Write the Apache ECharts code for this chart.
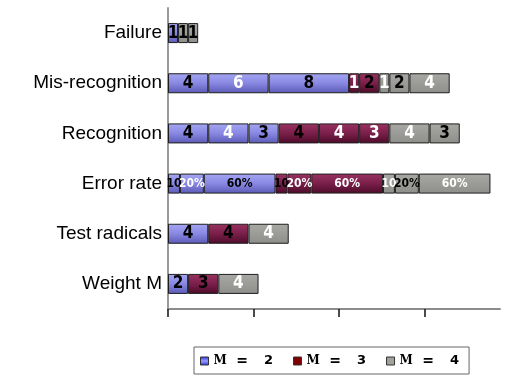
<!DOCTYPE html>
<html>
<head>
<meta charset="utf-8">
<script src="https://cdn.jsdelivr.net/npm/echarts@6/dist/echarts.min.js"></script>
<style>
  html, body { margin: 0; padding: 0; background: #ffffff; }
  #chart { width: 509px; height: 377px; }
</style>
</head>
<body>
<div id="chart"></div>
<script>
// Rows, top to bottom
const categories = ['Failure', 'Mis-recognition', 'Recognition', 'Error rate', 'Test radicals', 'Weight M'];

// Count segments per model order (null = no segment in that row)
const m2First  = [1, 4, 4, null, 4, 2];
const m2Second = [null, 6, 4, null, null, null];
const m2Third  = [null, 8, 3, null, null, null];
const m3First  = [null, 1, 4, null, 4, 3];
const m3Second = [null, 2, 4, null, null, null];
const m3Third  = [null, null, 3, null, null, null];
const m4First  = [1, 1, 4, null, 4, 4];
const m4Second = [1, 2, 3, null, null, null];
const m4Third  = [null, 4, null, null, null, null];

// Error rate row: percentage parts for each model order
const m2Rates = [10, 20, 60];
const m3Rates = [10, 20, 60];
const m4Rates = [10, 20, 60];
const rateLabels = ['10', '20%', '60%'];

// Value axis tick positions
const xTicks = [0, 8.5, 17, 25.5];

// Label ink per segment: k = dark text, w = light text
const m2FirstInk  = ['k', 'k', 'k', '', 'k', 'k'];
const m2SecondInk = ['', 'w', 'w', '', '', ''];
const m2ThirdInk  = ['', 'k', 'k', '', '', ''];
const m3FirstInk  = ['', 'w', 'k', '', 'k', 'k'];
const m3SecondInk = ['', 'k', 'w', '', '', ''];
const m3ThirdInk  = ['', '', 'w', '', '', ''];
const m4FirstInk  = ['k', 'w', 'w', '', 'w', 'w'];
const m4SecondInk = ['k', 'k', 'k', '', '', ''];
const m4ThirdInk  = ['', 'w', '', '', '', ''];
const m2RateInk = ['k', 'w', 'k'];
const m3RateInk = ['k', 'w', 'w'];
const m4RateInk = ['w', 'k', 'w'];

const inkColor = { k: '#000000', w: '#ffffff' };

const G = echarts.graphic.LinearGradient;
const fills = {
  'M = 2': new G(0, 0, 0, 1, [
    { offset: 0, color: '#a6a6f4' }, { offset: 0.5, color: '#8888e2' }, { offset: 1, color: '#5a5ab6' }]),
  'M = 3': new G(0, 0, 0, 1, [
    { offset: 0, color: '#9a3262' }, { offset: 0.5, color: '#7a1f4a' }, { offset: 1, color: '#4c0b28' }]),
  'M = 4': new G(0, 0, 0, 1, [
    { offset: 0, color: '#a8a8a4' }, { offset: 1, color: '#8e8e8a' }])
};
const legendFills = {
  'M = 2': new G(0, 0, 0, 1, [{ offset: 0, color: '#2a2ae0' }, { offset: 0.5, color: '#9a9aff' }, { offset: 1, color: '#2a2ae0' }]),
  'M = 3': '#7e0000',
  'M = 4': '#a2a29c'
};

const rateRow = categories.indexOf('Error rate');

const baseLabel = {
  show: true,
  position: 'inside',
  fontFamily: 'DejaVu Sans Condensed',
  fontWeight: 'bold',
  fontSize: 17
};

function countSeries(name, values, inks) {
  return {
    name: name,
    type: 'bar',
    stack: 'total',
    xAxisIndex: 0,
    barWidth: 20,
    itemStyle: { color: fills[name], borderColor: '#1e1e1e', borderWidth: 1 },
    label: baseLabel,
    emphasis: { disabled: true },
    data: values.map((v, i) => v == null ? '-' : { value: v, label: { color: inkColor[inks[i]] } })
  };
}

function rateSeries(name, rates, inks, part) {
  return {
    name: name,
    type: 'bar',
    stack: 'total',
    xAxisIndex: 1,
    barWidth: 20,
    itemStyle: { color: fills[name], borderColor: '#1e1e1e', borderWidth: 1 },
    label: Object.assign({}, baseLabel, {
      fontSize: 12,
      formatter: () => rateLabels[part]
    }),
    emphasis: { disabled: true },
    data: categories.map((c, i) => i === rateRow
      ? { value: rates[part], label: { color: inkColor[inks[part]] } }
      : '-')
  };
}

const series = [
  countSeries('M = 2', m2First, m2FirstInk),
  countSeries('M = 2', m2Second, m2SecondInk),
  countSeries('M = 2', m2Third, m2ThirdInk),
  countSeries('M = 3', m3First, m3FirstInk),
  countSeries('M = 3', m3Second, m3SecondInk),
  countSeries('M = 3', m3Third, m3ThirdInk),
  countSeries('M = 4', m4First, m4FirstInk),
  countSeries('M = 4', m4Second, m4SecondInk),
  countSeries('M = 4', m4Third, m4ThirdInk)
];
[['M = 2', m2Rates, m2RateInk], ['M = 3', m3Rates, m3RateInk], ['M = 4', m4Rates, m4RateInk]]
  .forEach(([name, rates, inks]) => {
    for (let p = 0; p < rates.length; p++) series.push(rateSeries(name, rates, inks, p));
  });

const chart = echarts.init(document.getElementById('chart'), null, { renderer: 'canvas' });
chart.setOption({
  animation: false,
  backgroundColor: '#ffffff',
  grid: { left: 168, right: 9, top: 8, bottom: 68, containLabel: false },
  xAxis: [
    {
      type: 'value',
      min: 0,
      max: 33,
      axisLine: { show: true, lineStyle: { color: '#8c8c8c', width: 2 } },
      axisTick: { show: true, customValues: xTicks, length: 8, lineStyle: { color: '#111111', width: 1.5 } },
      axisLabel: { show: false },
      splitLine: { show: false }
    },
    {
      type: 'value',
      min: 0,
      max: 278,
      show: false
    }
  ],
  yAxis: {
    type: 'category',
    data: categories,
    inverse: true,
    axisLine: { show: true, lineStyle: { color: '#999999', width: 2 } },
    axisTick: { show: false },
    axisLabel: { fontFamily: 'Liberation Sans', fontSize: 19, color: '#000000', margin: 6 }
  },
  legend: {
    left: 194,
    top: 347,
    orient: 'horizontal',
    itemWidth: 8,
    itemHeight: 8,
    itemGap: 20,
    padding: [7, 10, 6, 6],
    borderColor: '#666666',
    borderWidth: 1,
    selectedMode: false,
    data: ['M = 2', 'M = 3', 'M = 4'].map(n => ({
      name: n,
      icon: 'rect',
      itemStyle: { color: legendFills[n], borderColor: '#333333', borderWidth: 1 }
    })),
    formatter: name => {
      const p = name.split(' ');
      return '{m|' + p[0] + '}{e|' + p[1] + '}{n|' + p[2] + '}';
    },
    textStyle: {
      fontFamily: 'DejaVu Sans',
      fontWeight: 'bold',
      fontSize: 13,
      color: '#000000',
      rich: {
        m: { width: 11, align: 'left', fontFamily: 'DejaVu Serif', fontWeight: 'bold', fontSize: 12 },
        e: { width: 35, align: 'center', fontFamily: 'DejaVu Sans', fontWeight: 'bold', fontSize: 14 },
        n: { width: 18, align: 'center', fontFamily: 'DejaVu Sans', fontWeight: 'bold', fontSize: 13 }
      }
    }
  },
  series: series
});
</script>
</body>
</html>
